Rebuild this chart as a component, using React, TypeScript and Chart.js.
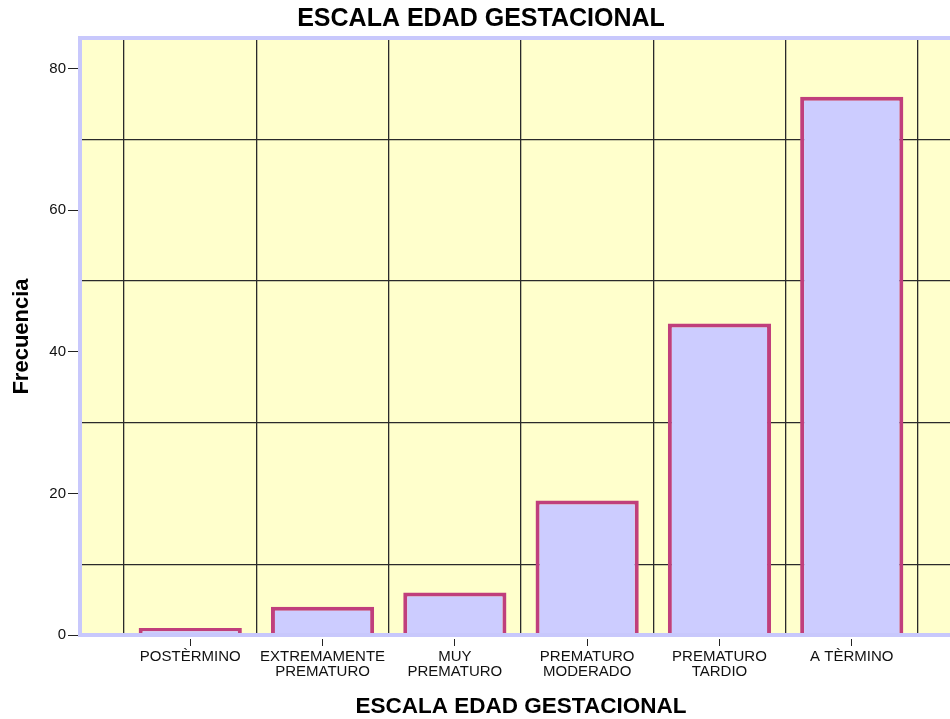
import { useEffect, useRef } from 'react';
import { Chart, registerables } from 'chart.js';

Chart.register(...registerables);

// Chart texts
const chartTitle = 'ESCALA EDAD GESTACIONAL';
const xAxisTitle = 'ESCALA EDAD GESTACIONAL';
const yAxisTitle = 'Frecuencia';

// Categories (multi-line tick labels)
const categoryLabels: string[][] = [
  ['POSTÈRMINO'],
  ['EXTREMAMENTE', 'PREMATURO'],
  ['MUY', 'PREMATURO'],
  ['PREMATURO', 'MODERADO'],
  ['PREMATURO', 'TARDIO'],
  ['A TÈRMINO'],
];

// Frequency per category
const frequencies: number[] = [1, 4, 6, 19, 44, 76];

// Value axis
const yTickValues: number[] = [0, 20, 40, 60, 80];
const yGridValues: number[] = [10, 30, 50, 70];
const yMax = 84.3;

// Category axis: extra room of one third of a category on each side
const sideRoom = 1 / 3;
const xMin = -0.5 - sideRoom;
const xMax = categoryLabels.length - 0.5 + sideRoom;
const categoryBoundaries: number[] = [...categoryLabels.map((_, i) => i - 0.5), categoryLabels.length - 0.5];

const FONT = "'Liberation Sans', Arial, Helvetica, sans-serif";

const plotFrame = {
  id: 'plotFrame',
  beforeDraw(chart: any) {
    const { ctx, chartArea: a } = chart;
    ctx.save();
    ctx.fillStyle = '#ffffcc';
    ctx.fillRect(a.left, a.top, a.right - a.left, a.bottom - a.top);
    ctx.restore();
  },
  afterDatasetsDraw(chart: any) {
    const { ctx, chartArea: a } = chart;
    ctx.save();
    ctx.strokeStyle = '#c8c8fc';
    ctx.lineWidth = 4;
    ctx.strokeRect(a.left, a.top, a.right - a.left, a.bottom - a.top);
    ctx.restore();
  },
};

export default function App() {
  const canvasRef = useRef<HTMLCanvasElement | null>(null);

  useEffect(() => {
    if (!canvasRef.current) return;
    const chart = new Chart(canvasRef.current, {
      type: 'bar',
      data: {
        datasets: [
          {
            label: yAxisTitle,
            data: frequencies.map((v, i) => ({ x: i, y: v })),
            backgroundColor: '#ccccff',
            borderColor: '#c03f7c',
            borderWidth: 4,
            borderSkipped: 'bottom',
            barPercentage: 0.78,
            categoryPercentage: 1,
          },
        ],
      },
      options: {
        animation: false,
        responsive: false,
        devicePixelRatio: 1,
        layout: { padding: { left: 0, right: 2, top: 0, bottom: 0 } },
        plugins: {
          legend: { display: false },
          tooltip: { enabled: false },
          title: {
            display: true,
            text: chartTitle,
            color: '#000',
            font: { family: FONT, size: 25, weight: 'bold', lineHeight: 1.2 },
            padding: { top: 4, bottom: 4 },
          },
        },
        scales: {
          x: {
            type: 'linear',
            min: xMin,
            max: xMax,
            offset: false,
            afterBuildTicks: (s: any) => {
              s.ticks = categoryLabels.map((_, i) => ({ value: i }));
            },
            afterFit: (s: any) => {
              s.height = 84;
            },
            grid: {
              display: true,
              drawOnChartArea: false,
              offset: false,
              tickLength: 11,
              tickColor: '#222',
              tickWidth: 1,
              tickBorderDash: [0, 4, 7, 50],
            },
            border: { display: false },
            ticks: {
              autoSkip: false,
              maxRotation: 0,
              minRotation: 0,
              padding: 3.5,
              color: '#111',
              font: { family: FONT, size: 15, lineHeight: 1 },
              callback: (_v: any, i: number) => categoryLabels[i],
            },
            title: {
              display: true,
              text: xAxisTitle,
              color: '#000',
              font: { family: FONT, size: 22.5, weight: 'bold', lineHeight: 1.1 },
              padding: { top: 0, bottom: 0 },
            },
          },
          xGrid: {
            type: 'linear',
            position: 'top',
            min: xMin,
            max: xMax,
            offset: false,
            afterBuildTicks: (s: any) => {
              s.ticks = categoryBoundaries.map((v) => ({ value: v }));
            },
            grid: { color: '#2a2a2a', lineWidth: 1.3, drawTicks: false, offset: false },
            border: { display: false },
            ticks: { display: false },
          },
          y: {
            type: 'linear',
            position: 'left',
            min: 0,
            max: yMax,
            afterBuildTicks: (s: any) => {
              s.ticks = yTickValues.map((v) => ({ value: v }));
            },
            afterFit: (s: any) => {
              s.width = 80;
            },
            grid: {
              display: true,
              drawOnChartArea: false,
              tickLength: 12,
              tickColor: '#222',
              tickWidth: 1,
            },
            border: { display: false },
            ticks: {
              padding: 2,
              color: '#111',
              font: { family: FONT, size: 15 },
            },
            title: {
              display: true,
              text: yAxisTitle,
              color: '#000',
              font: { family: FONT, size: 22, weight: 'bold', lineHeight: 1.2 },
              padding: { top: 9, bottom: 0 },
            },
          },
          yGrid: {
            type: 'linear',
            position: 'right',
            min: 0,
            max: yMax,
            afterBuildTicks: (s: any) => {
              s.ticks = yGridValues.map((v) => ({ value: v }));
            },
            grid: { color: '#2a2a2a', lineWidth: 1.3, drawTicks: false },
            border: { display: false },
            ticks: { display: false },
          },
        },
      } as any,
      plugins: [plotFrame],
    });
    return () => chart.destroy();
  }, []);

  return (
    <div
      style={{
        position: 'fixed',
        left: 0,
        top: 0,
        width: 950,
        height: 719,
        overflow: 'hidden',
        background: '#fff',
      }}
    >
      <canvas ref={canvasRef} width={964} height={719} style={{ display: 'block' }} />
    </div>
  );
}
